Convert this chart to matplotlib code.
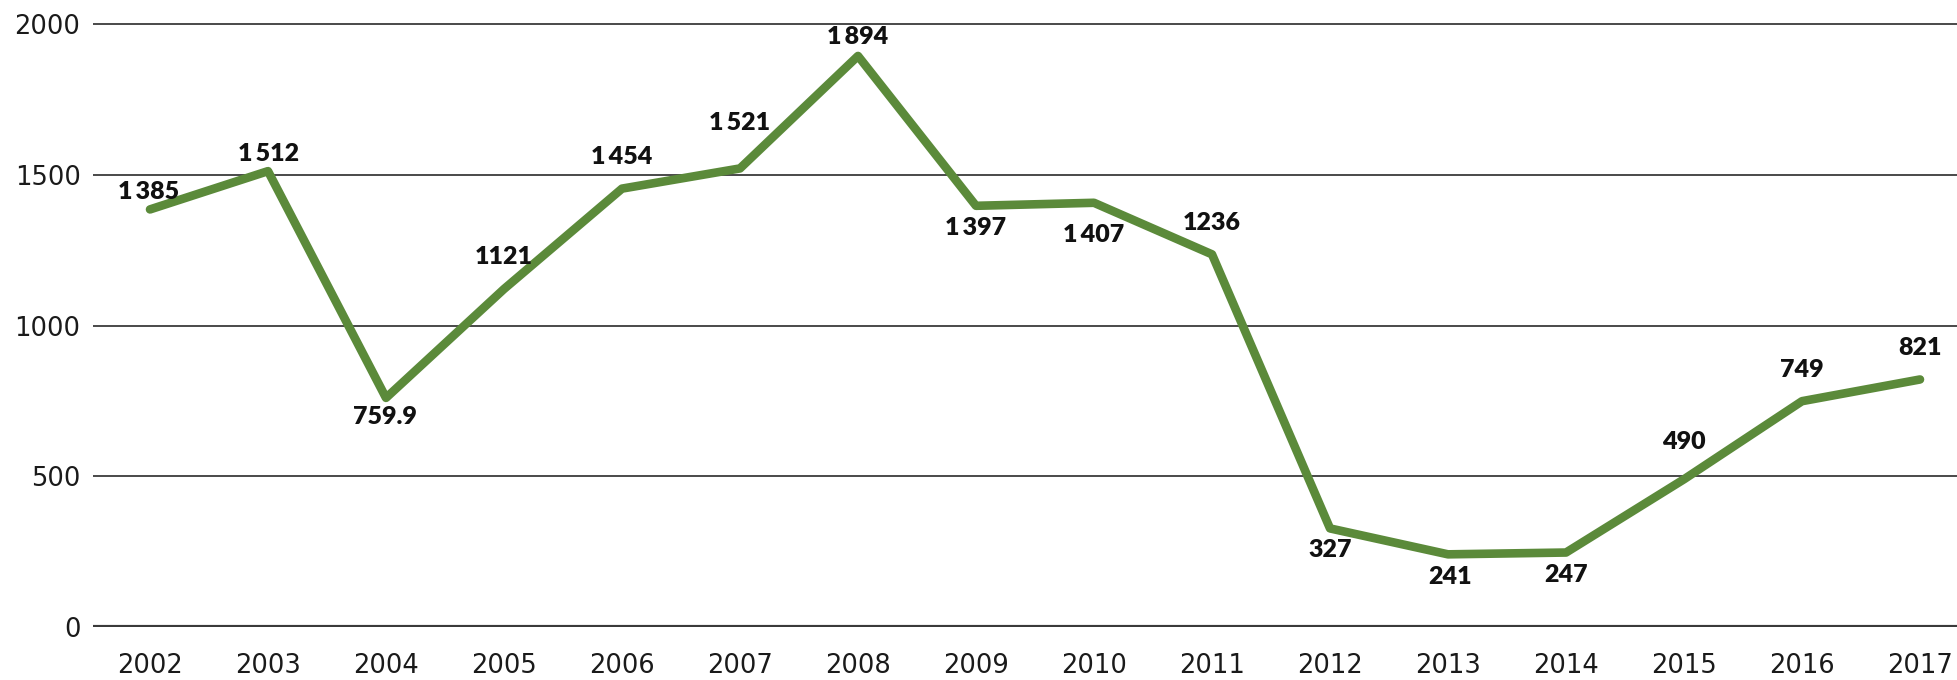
import matplotlib
matplotlib.use("Agg")
import matplotlib.pyplot as plt

years = [2002, 2003, 2004, 2005, 2006, 2007, 2008, 2009,
         2010, 2011, 2012, 2013, 2014, 2015, 2016, 2017]
values = [1385, 1512, 759.9, 1121, 1454, 1521, 1894, 1397,
          1407, 1236, 327, 241, 247, 490, 749, 821]
value_labels = ["1\u2009385", "1\u2009512", "759.9", "1121", "1\u2009454", "1\u2009521",
                "1\u2009894", "1\u2009397", "1\u2009407", "1236", "327", "241", "247",
                "490", "749", "821"]
y_ticks = [0, 500, 1000, 1500, 2000]

# label offsets in pixels (styling)
label_offsets = [(-1, 17), (1, 17), (-1, -19), (0, 32), (0, 32), (0, 45), (0, 19), (0, -22),
                 (0, -32), (0, 31), (0, -22), (2, -23), (0, -22), (0, 37), (0, 31), (0, 31)]

W, H = 1957, 680
fig = plt.figure(figsize=(W / 100, H / 100), dpi=100)
ax = fig.add_axes([93 / W, 53 / H, 1 - 93 / W, (670 - 53) / H])

ax.set_xlim(2002 - 57 / 118, 2017 + 37 / 118)
ax.set_ylim(0, 2000 + 14 / 150.75 * 500)

for t in y_ticks:
    ax.axhline(t, color="#3a3a3a", lw=3.0 if t == 0 else 1.3, zorder=1)

ax.plot(years, values, color="#5b8a3a", lw=6.2, solid_joinstyle="round",
        solid_capstyle="round", zorder=3)

for x, y, lab, (dx, dy) in zip(years, values, value_labels, label_offsets):
    ax.annotate(lab, (x, y), xytext=(dx, dy), textcoords="offset pixels",
                ha="center", va="center", fontsize=18, fontweight="heavy",
                family=["Lato", "DejaVu Sans"], color="#111111", zorder=4)

ax.set_xticks(years)
ax.set_xticklabels([str(y) for y in years])
ax.set_yticks(y_ticks)
ax.set_yticklabels([str(t) for t in y_ticks])
ax.tick_params(axis="both", length=0, labelsize=18.5, labelcolor="#1a1a1a")
ax.tick_params(axis="x", pad=19)
ax.tick_params(axis="y", pad=9)
for s in ax.spines.values():
    s.set_visible(False)
ax.set_facecolor("white")

fig.savefig("out.png", dpi=100, facecolor="white")
